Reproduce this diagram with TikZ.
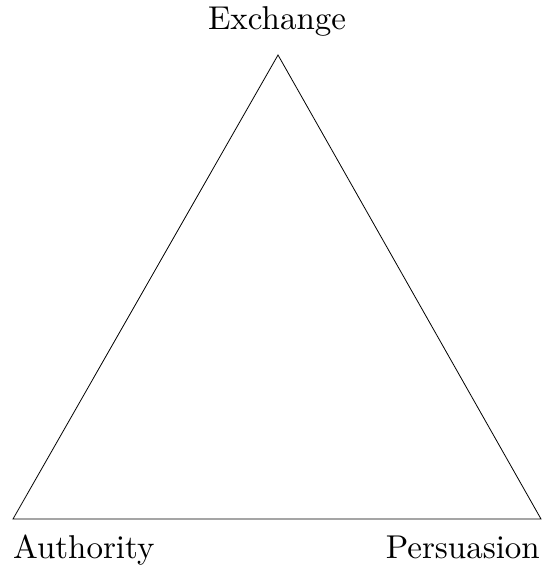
\documentclass[tikz,border=0pt]{standalone}
\usepackage{fontspec}
\setmainfont{lmroman10-regular}[Extension=.otf]
\begin{document}
\begin{tikzpicture}[x=1pt,y=1pt,
  lbl/.style={inner sep=0pt,font=\fontsize{33}{40}\selectfont},
  edge/.style={line width=0.8pt}]
\useasboundingbox (0,0) rectangle (543,-567);
\coordinate (top) at (278,-55);
\coordinate (left) at (13,-519);
\coordinate (right) at (541,-519);
\draw[edge,line join=miter] (top) -- (left) -- (right) -- cycle;
\node[lbl,anchor=base] (ex) at (277,-29.5) {Exchange};
\node[lbl,anchor=base west] (au) at (13,-558) {Authority};
\node[lbl,anchor=base east] (pe) at (540,-558) {Persuasion};
\end{tikzpicture}
\end{document}
